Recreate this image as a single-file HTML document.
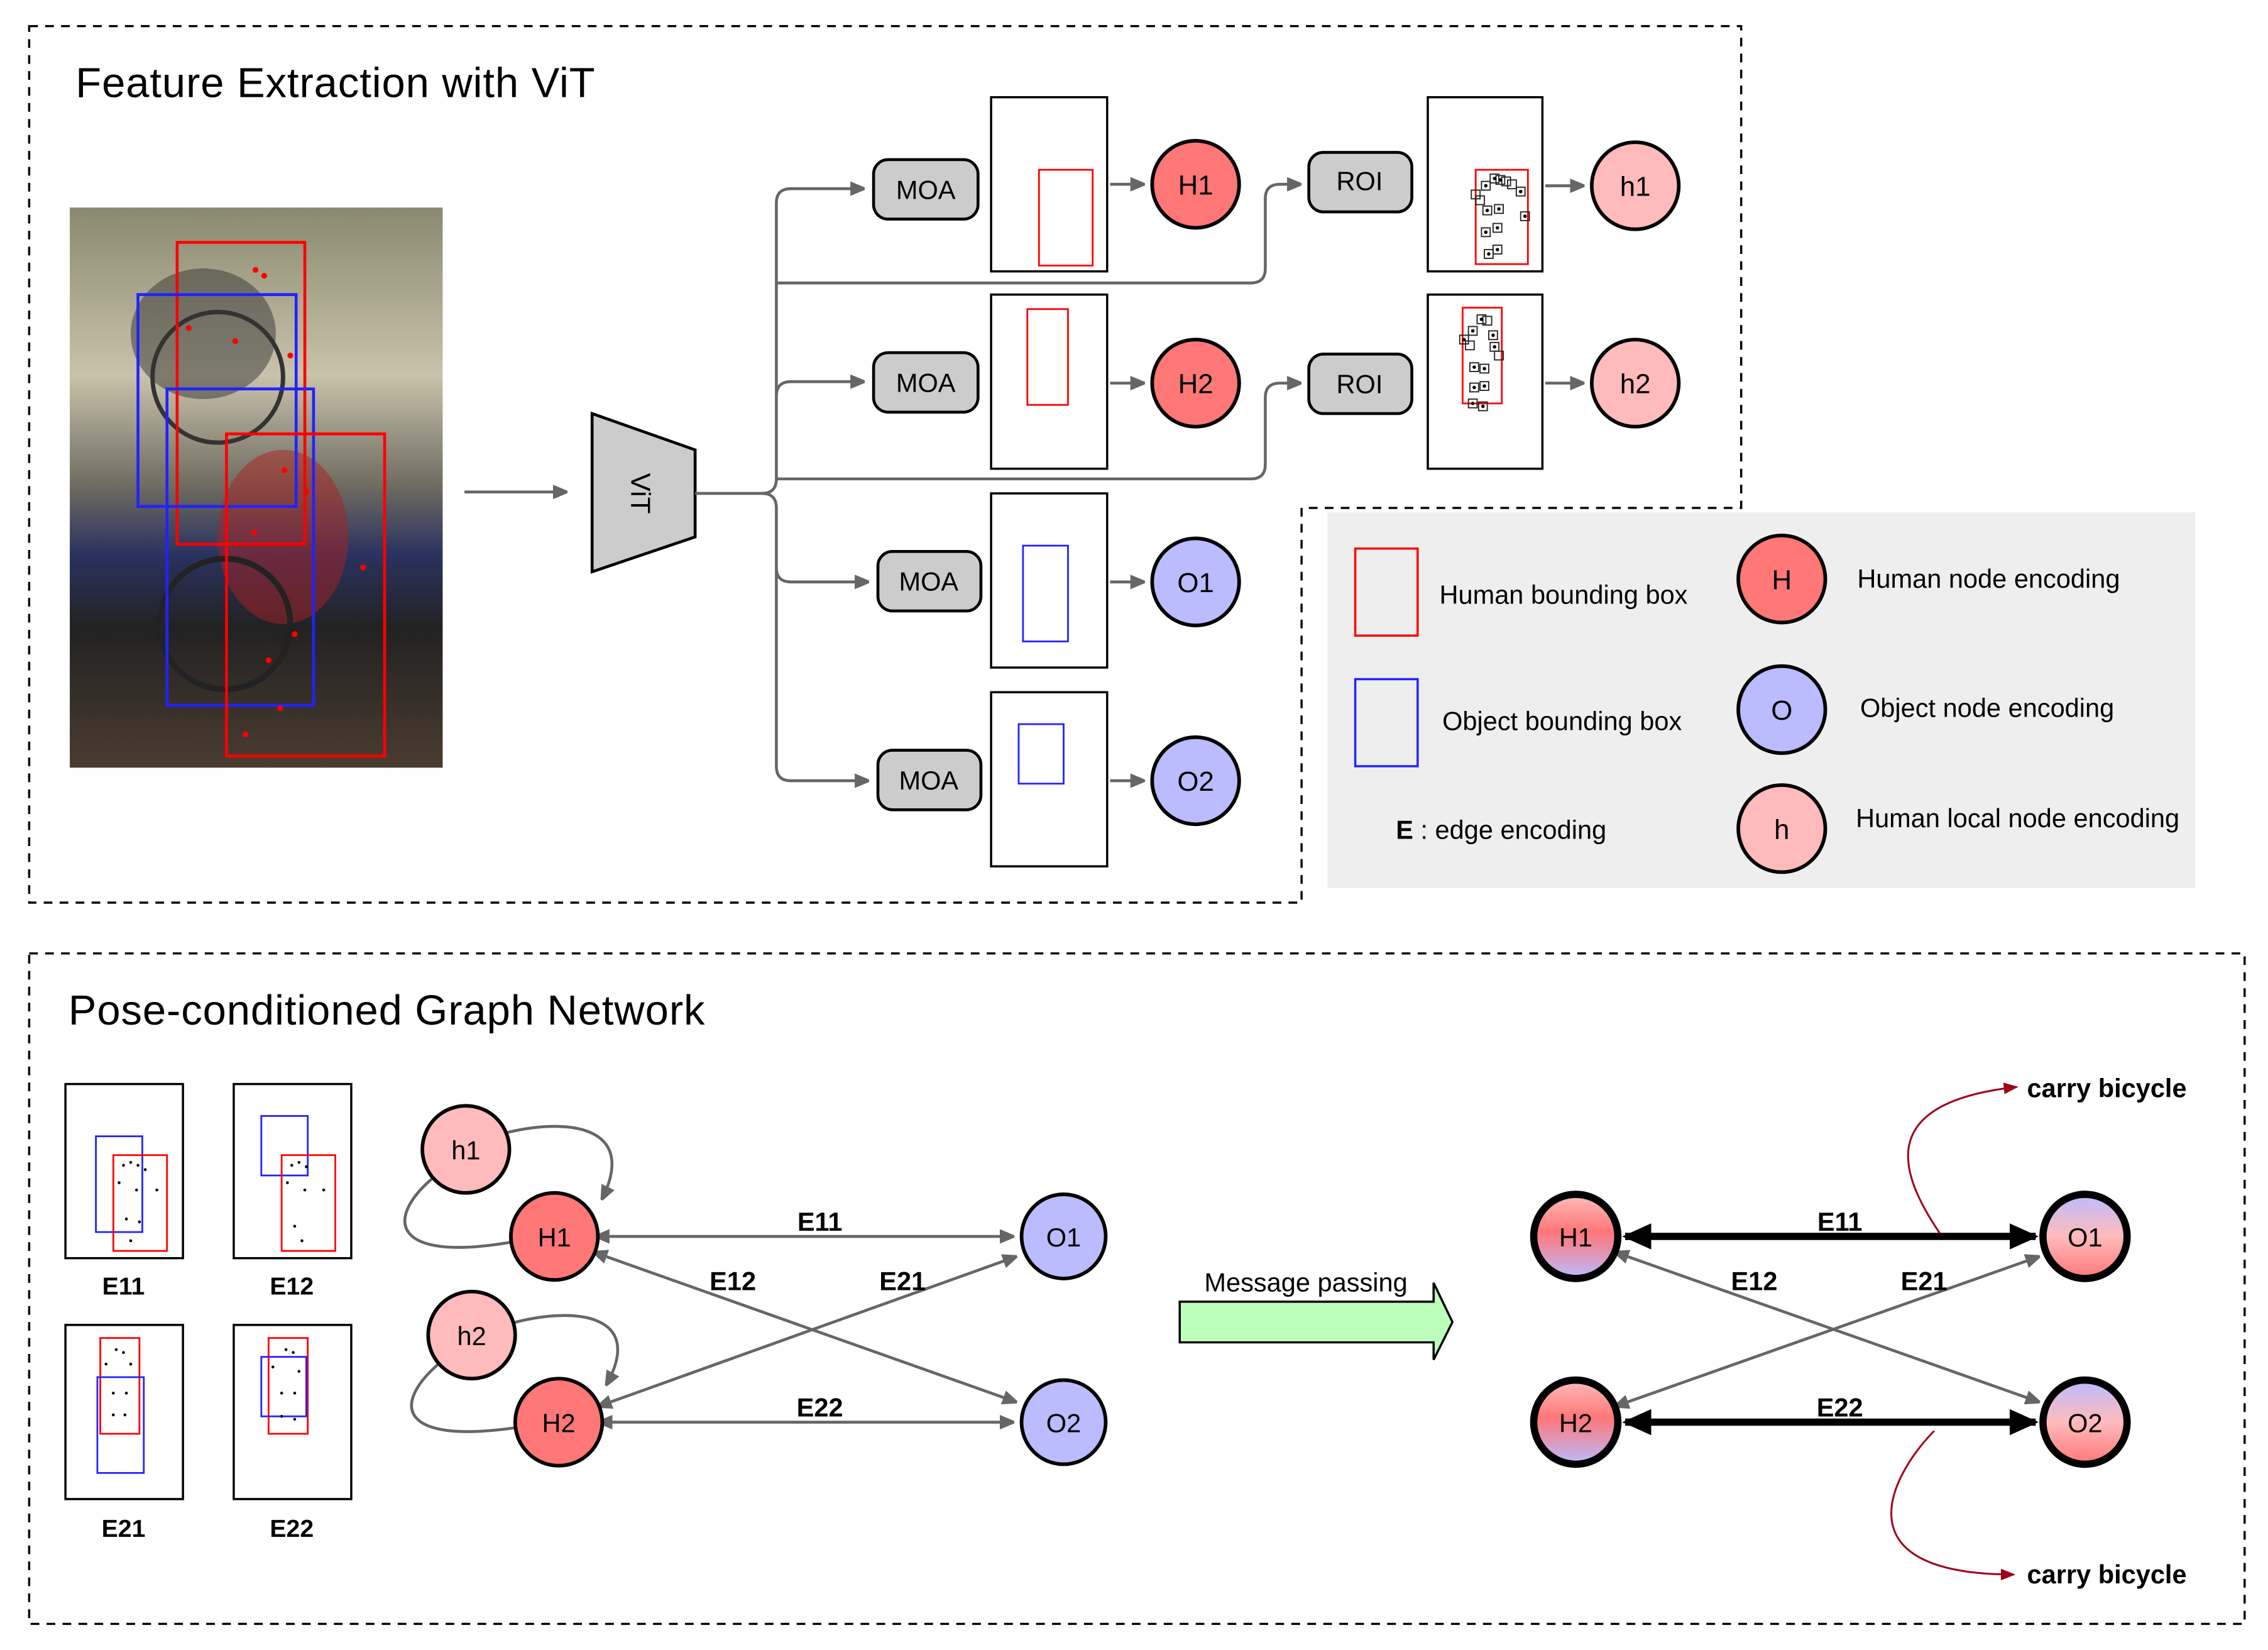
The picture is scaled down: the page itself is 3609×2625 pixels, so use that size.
<!DOCTYPE html>
<html><head><meta charset="utf-8"><style>html,body{margin:0;padding:0;background:#fff}svg{display:block}</style></head>
<body>
<svg xmlns="http://www.w3.org/2000/svg" width="3609" height="2625" viewBox="0 0 1563 1137" font-family="Liberation Sans, sans-serif">
<defs>
<marker id="ag" markerWidth="10" markerHeight="10" refX="9" refY="5" orient="auto" markerUnits="userSpaceOnUse"><path d="M0,0 L12,5 L0,10 z" fill="#666"/></marker>
<marker id="ags" markerWidth="10" markerHeight="10" refX="0" refY="5" orient="auto-start-reverse" markerUnits="userSpaceOnUse"><path d="M0,0 L12,5 L0,10 z" fill="#666"/></marker>
<marker id="ab" markerWidth="20" markerHeight="18" refX="18" refY="9" orient="auto-start-reverse" markerUnits="userSpaceOnUse"><path d="M0,0 L20,9 L0,18 z" fill="#000"/></marker>
<marker id="ar" markerWidth="10" markerHeight="8" refX="9" refY="4" orient="auto" markerUnits="userSpaceOnUse"><path d="M0,0 L10,4 L0,8 z" fill="#a00018"/></marker>
<linearGradient id="gh" x1="0" y1="0" x2="0" y2="1"><stop offset="0" stop-color="#fbb"/><stop offset="0.45" stop-color="#f77"/><stop offset="1" stop-color="#bbf"/></linearGradient>
<linearGradient id="go" x1="0" y1="0" x2="0" y2="1"><stop offset="0" stop-color="#bbf"/><stop offset="0.5" stop-color="#fbb"/><stop offset="1" stop-color="#f77"/></linearGradient>
<linearGradient id="photo" x1="0" y1="0" x2="0" y2="1"><stop offset="0" stop-color="#8a8a70"/><stop offset="0.3" stop-color="#c9c2aa"/><stop offset="0.5" stop-color="#6d6a60"/><stop offset="0.62" stop-color="#2a3260"/><stop offset="0.75" stop-color="#222"/><stop offset="1" stop-color="#4a3c30"/></linearGradient>
</defs>

<path d="M20,18 H1200 V350 H897 V622 H20 Z" fill="none" stroke="#000" stroke-width="1.5" stroke-dasharray="6,5"/>
<text x="52" y="67" font-size="29" fill="#000" letter-spacing="0.4">Feature Extraction with ViT</text>

<rect x="48" y="143" width="257" height="386" fill="url(#photo)"/>
<ellipse cx="140" cy="230" rx="50" ry="45" fill="#333" opacity="0.5"/>
<ellipse cx="195" cy="370" rx="45" ry="60" fill="#a22" opacity="0.5"/>
<circle cx="155" cy="430" r="45" fill="none" stroke="#222" stroke-width="4"/>
<circle cx="150" cy="260" r="45" fill="none" stroke="#333" stroke-width="3"/>
<g fill="none" stroke-width="2">
<rect x="122" y="167" width="88" height="208" stroke="#f00"/>
<rect x="95" y="203" width="109" height="146" stroke="#22f"/>
<rect x="115" y="268" width="101" height="218" stroke="#22f"/>
<rect x="156" y="299" width="109" height="222" stroke="#f00"/>
</g>
<g fill="#f00"><circle cx="176" cy="186" r="2"/><circle cx="182" cy="190" r="2"/><circle cx="162" cy="235" r="2"/><circle cx="200" cy="245" r="2"/><circle cx="196" cy="324" r="2"/><circle cx="211" cy="339" r="2"/><circle cx="250" cy="391" r="2"/><circle cx="203" cy="437" r="2"/><circle cx="185" cy="455" r="2"/><circle cx="193" cy="488" r="2"/><circle cx="169" cy="506" r="2"/><circle cx="175" cy="367" r="2"/><circle cx="130" cy="226" r="2"/></g>

<line x1="320" y1="339" x2="390" y2="339" stroke="#666" stroke-width="2" marker-end="url(#ag)"/>
<polygon points="408,285 479,310 479,370 408,394" fill="#ccc" stroke="#000" stroke-width="2"/>
<text x="0" y="0" font-size="19" transform="translate(435,340) rotate(90)" text-anchor="middle">ViT</text>

<g fill="none" stroke="#666" stroke-width="2">
<path d="M479,340 H525 Q535,340 535,330 V140 Q535,130 545,130 H595" marker-end="url(#ag)"/>
<path d="M535,273 Q535,263 545,263 H595" marker-end="url(#ag)"/>
<path d="M525,340 Q535,340 535,350 V528 Q535,538 545,538 H598" marker-end="url(#ag)"/>
<path d="M535,391 Q535,401 545,401 H598" marker-end="url(#ag)"/>
<path d="M535,195 H862 Q872,195 872,185 V137 Q872,127 882,127 H896" marker-end="url(#ag)"/>
<path d="M535,330 H862 Q872,330 872,320 V274 Q872,264 882,264 H896" marker-end="url(#ag)"/>
<path d="M765,127 H788" marker-end="url(#ag)"/>
<path d="M765,264 H788" marker-end="url(#ag)"/>
<path d="M765,401 H788" marker-end="url(#ag)"/>
<path d="M765,538 H788" marker-end="url(#ag)"/>
<path d="M1065,128 H1091" marker-end="url(#ag)"/>
<path d="M1065,264 H1091" marker-end="url(#ag)"/>
</g>

<g fill="#ccc" stroke="#000" stroke-width="2">
<rect x="602" y="110" width="72" height="41" rx="10"/>
<rect x="602" y="243" width="72" height="41" rx="10"/>
<rect x="605" y="380" width="71" height="41" rx="10"/>
<rect x="605" y="517" width="71" height="41" rx="10"/>
<rect x="902" y="105" width="71" height="41" rx="10"/>
<rect x="902" y="244" width="71" height="41" rx="10"/>
</g>
<g font-size="18" text-anchor="middle">
<text x="638" y="137">MOA</text><text x="638" y="270">MOA</text><text x="640" y="407">MOA</text><text x="640" y="544">MOA</text>
<text x="937" y="131">ROI</text><text x="937" y="271">ROI</text>
</g>

<g fill="#fff" stroke="#000" stroke-width="1.5">
<rect x="683" y="67" width="80" height="120"/><rect x="683" y="203" width="80" height="120"/>
<rect x="683" y="340" width="80" height="120"/><rect x="683" y="477" width="80" height="120"/>
<rect x="984" y="67" width="79" height="120"/><rect x="984" y="203" width="79" height="120"/>
</g>
<g fill="none" stroke-width="1.2">
<rect x="716" y="117" width="37" height="66" stroke="#f00"/>
<rect x="708" y="213" width="28" height="66" stroke="#f00"/>
<rect x="705" y="376" width="31" height="66" stroke="#22f"/>
<rect x="702" y="499" width="31" height="41" stroke="#22f"/>
<rect x="1017" y="117" width="36" height="65" stroke="#f00"/>
<rect x="1008" y="212" width="27" height="66" stroke="#f00"/>
</g>
<g fill="none" stroke="#222" stroke-width="0.8">
<rect x="1027" y="120" width="6" height="6"/><rect x="1031" y="121" width="6" height="6"/><rect x="1035" y="122" width="6" height="6"/><rect x="1021" y="125" width="6" height="6"/><rect x="1039" y="124" width="6" height="6"/><rect x="1045" y="129" width="6" height="6"/><rect x="1014" y="131" width="6" height="6"/><rect x="1017" y="135" width="6" height="6"/><rect x="1048" y="146" width="6" height="6"/><rect x="1022" y="142" width="6" height="6"/><rect x="1030" y="141" width="6" height="6"/><rect x="1021" y="157" width="6" height="6"/><rect x="1029" y="154" width="6" height="6"/><rect x="1023" y="172" width="6" height="6"/><rect x="1029" y="169" width="6" height="6"/>
<rect x="1018" y="217" width="6" height="6"/><rect x="1022" y="218" width="6" height="6"/><rect x="1012" y="225" width="6" height="6"/><rect x="1006" y="231" width="6" height="6"/><rect x="1010" y="235" width="6" height="6"/><rect x="1026" y="228" width="6" height="6"/><rect x="1027" y="236" width="6" height="6"/><rect x="1030" y="242" width="6" height="6"/><rect x="1013" y="250" width="6" height="6"/><rect x="1020" y="251" width="6" height="6"/><rect x="1013" y="264" width="6" height="6"/><rect x="1020" y="263" width="6" height="6"/><rect x="1012" y="275" width="6" height="6"/><rect x="1019" y="277" width="6" height="6"/>
</g>
<g fill="#000">
<circle cx="1030" cy="123" r="1.2"/><circle cx="1034" cy="124" r="1.2"/><circle cx="1024" cy="128" r="1.2"/><circle cx="1048" cy="132" r="1.2"/><circle cx="1051" cy="149" r="1.2"/><circle cx="1025" cy="145" r="1.2"/><circle cx="1033" cy="144" r="1.2"/><circle cx="1024" cy="160" r="1.2"/><circle cx="1032" cy="157" r="1.2"/><circle cx="1026" cy="175" r="1.2"/><circle cx="1032" cy="172" r="1.2"/>
<circle cx="1021" cy="220" r="1.2"/><circle cx="1015" cy="228" r="1.2"/><circle cx="1009" cy="234" r="1.2"/><circle cx="1029" cy="231" r="1.2"/><circle cx="1030" cy="239" r="1.2"/><circle cx="1016" cy="253" r="1.2"/><circle cx="1023" cy="254" r="1.2"/><circle cx="1016" cy="267" r="1.2"/><circle cx="1023" cy="266" r="1.2"/><circle cx="1015" cy="278" r="1.2"/><circle cx="1022" cy="280" r="1.2"/>
</g>

<g stroke="#000" stroke-width="2.5">
<circle cx="824" cy="127" r="30" fill="#f77"/><circle cx="824" cy="264" r="30" fill="#f77"/>
<circle cx="824" cy="401" r="30" fill="#bbf"/><circle cx="824" cy="538" r="30" fill="#bbf"/>
<circle cx="1127" cy="128" r="30" fill="#fbb"/><circle cx="1127" cy="264" r="30" fill="#fbb"/>
</g>
<g font-size="19" text-anchor="middle">
<text x="824" y="134">H1</text><text x="824" y="271">H2</text><text x="824" y="408">O1</text><text x="824" y="545">O2</text>
<text x="1127" y="135">h1</text><text x="1127" y="271">h2</text>
</g>

<rect x="915" y="353" width="598" height="259" fill="#eee"/>
<rect x="934" y="378" width="43" height="60" fill="none" stroke="#f00" stroke-width="1.5"/>
<rect x="934" y="468" width="43" height="60" fill="none" stroke="#22f" stroke-width="1.5"/>
<g font-size="18">
<text x="992" y="416">Human bounding box</text>
<text x="994" y="503">Object bounding box</text>
<text x="962" y="578"><tspan font-weight="bold">E</tspan> : edge encoding</text>
<text x="1280" y="405">Human node encoding</text>
<text x="1282" y="494">Object node encoding</text>
<text x="1279" y="570">Human local node encoding</text>
</g>
<g stroke="#000" stroke-width="2.5">
<circle cx="1228" cy="399" r="30" fill="#f77"/><circle cx="1228" cy="489" r="30" fill="#bbf"/><circle cx="1228" cy="571" r="30" fill="#fbb"/>
</g>
<g font-size="19" text-anchor="middle"><text x="1228" y="406">H</text><text x="1228" y="496">O</text><text x="1228" y="578">h</text></g>

<rect x="20" y="657" width="1527" height="462" fill="none" stroke="#000" stroke-width="1.5" stroke-dasharray="6,5"/>
<text x="47" y="706" font-size="29" letter-spacing="0.4">Pose-conditioned Graph Network</text>

<g fill="#fff" stroke="#000" stroke-width="1.5">
<rect x="45" y="747" width="81" height="120"/><rect x="161" y="747" width="81" height="120"/>
<rect x="45" y="913" width="81" height="120"/><rect x="161" y="913" width="81" height="120"/>
</g>
<g fill="none" stroke-width="1.2">
<rect x="66" y="783" width="32" height="66" stroke="#22f"/><rect x="78" y="796" width="37" height="66" stroke="#f00"/>
<rect x="180" y="769" width="32" height="41" stroke="#22f"/><rect x="194" y="796" width="37" height="66" stroke="#f00"/>
<rect x="69" y="922" width="27" height="66" stroke="#f00"/><rect x="67" y="949" width="32" height="66" stroke="#22f"/>
<rect x="185" y="922" width="27" height="66" stroke="#f00"/><rect x="180" y="935" width="31" height="41" stroke="#22f"/>
</g>
<g fill="#000">
<circle cx="85" cy="803" r="1"/><circle cx="90" cy="801" r="1"/><circle cx="95" cy="803" r="1"/><circle cx="100" cy="806" r="1"/><circle cx="82" cy="815" r="1"/><circle cx="94" cy="820" r="1"/><circle cx="108" cy="820" r="1"/><circle cx="87" cy="840" r="1"/><circle cx="96" cy="842" r="1"/><circle cx="90" cy="855" r="1"/>
<circle cx="201" cy="803" r="1"/><circle cx="206" cy="801" r="1"/><circle cx="211" cy="804" r="1"/><circle cx="198" cy="815" r="1"/><circle cx="210" cy="820" r="1"/><circle cx="223" cy="820" r="1"/><circle cx="203" cy="845" r="1"/><circle cx="208" cy="855" r="1"/>
<circle cx="80" cy="930" r="1"/><circle cx="85" cy="932" r="1"/><circle cx="73" cy="940" r="1"/><circle cx="90" cy="940" r="1"/><circle cx="78" cy="960" r="1"/><circle cx="87" cy="960" r="1"/><circle cx="78" cy="975" r="1"/><circle cx="86" cy="975" r="1"/>
<circle cx="197" cy="930" r="1"/><circle cx="202" cy="932" r="1"/><circle cx="188" cy="942" r="1"/><circle cx="206" cy="945" r="1"/><circle cx="194" cy="960" r="1"/><circle cx="203" cy="960" r="1"/><circle cx="194" cy="976" r="1"/><circle cx="203" cy="978" r="1"/>
</g>
<g font-size="17" font-weight="bold" text-anchor="middle">
<text x="85" y="892">E11</text><text x="201" y="892">E12</text><text x="85" y="1059">E21</text><text x="201" y="1059">E22</text>
</g>

<g fill="none" stroke="#666" stroke-width="2">
<path d="M298,812 C265,840 270,870 352,856"/>
<path d="M347,781 C390,770 440,775 415,826" marker-end="url(#ag)"/>
<path d="M302,940 C270,968 275,995 354,984"/>
<path d="M352,912 C395,900 445,905 418,954" marker-end="url(#ag)"/>
<path d="M420,852 H698" marker-start="url(#ags)" marker-end="url(#ag)"/>
<path d="M422,980 H698" marker-start="url(#ags)" marker-end="url(#ag)"/>
<path d="M418,866 L700,966" marker-start="url(#ags)" marker-end="url(#ag)"/>
<path d="M421,966 L700,866" marker-start="url(#ags)" marker-end="url(#ag)"/>
</g>
<g stroke="#000" stroke-width="2.5">
<circle cx="321" cy="792" r="30" fill="#fbb"/><circle cx="382" cy="852" r="30" fill="#f77"/>
<circle cx="325" cy="920" r="30" fill="#fbb"/><circle cx="385" cy="980" r="30" fill="#f77"/>
<circle cx="733" cy="852" r="29" fill="#bbf"/><circle cx="733" cy="980" r="29" fill="#bbf"/>
</g>
<g font-size="18" text-anchor="middle">
<text x="321" y="799">h1</text><text x="382" y="859">H1</text><text x="325" y="927">h2</text><text x="385" y="987">H2</text><text x="733" y="859">O1</text><text x="733" y="987">O2</text>
</g>
<g font-size="18" font-weight="bold" text-anchor="middle">
<text x="565" y="848">E11</text><text x="505" y="889">E12</text><text x="622" y="889">E21</text><text x="565" y="976">E22</text>
</g>

<text x="900" y="890" font-size="18" text-anchor="middle">Message passing</text>
<polygon points="813,897 988,897 988,884 1001,911 988,937 988,925 813,925" fill="#bfb" stroke="#000" stroke-width="1.5"/>

<g fill="none">
<path d="M1120,852 H1403" stroke="#000" stroke-width="5" marker-start="url(#ab)" marker-end="url(#ab)"/>
<path d="M1120,980 H1403" stroke="#000" stroke-width="5" marker-start="url(#ab)" marker-end="url(#ab)"/>
<path d="M1122,866 L1405,966" stroke="#666" stroke-width="2" marker-start="url(#ags)" marker-end="url(#ag)"/>
<path d="M1122,966 L1405,866" stroke="#666" stroke-width="2" marker-start="url(#ags)" marker-end="url(#ag)"/>
<path d="M1337,850 C1310,810 1290,760 1390,749" stroke="#a00018" stroke-width="1.3" marker-end="url(#ar)"/>
<path d="M1333,986 C1300,1020 1270,1085 1388,1085" stroke="#a00018" stroke-width="1.3" marker-end="url(#ar)"/>
</g>
<g stroke="#000" stroke-width="5">
<circle cx="1086" cy="852" r="29" fill="url(#gh)"/><circle cx="1086" cy="980" r="29" fill="url(#gh)"/>
<circle cx="1437" cy="852" r="29" fill="url(#go)"/><circle cx="1437" cy="980" r="29" fill="url(#go)"/>
</g>
<g font-size="18" text-anchor="middle">
<text x="1086" y="859">H1</text><text x="1086" y="987">H2</text><text x="1437" y="859">O1</text><text x="1437" y="987">O2</text>
</g>
<g font-size="18" font-weight="bold" text-anchor="middle">
<text x="1268" y="848">E11</text><text x="1209" y="889">E12</text><text x="1326" y="889">E21</text><text x="1268" y="976">E22</text>
</g>
<g font-size="18" font-weight="bold">
<text x="1397" y="756">carry bicycle</text><text x="1397" y="1091">carry bicycle</text>
</g>
</svg>
</body></html>
